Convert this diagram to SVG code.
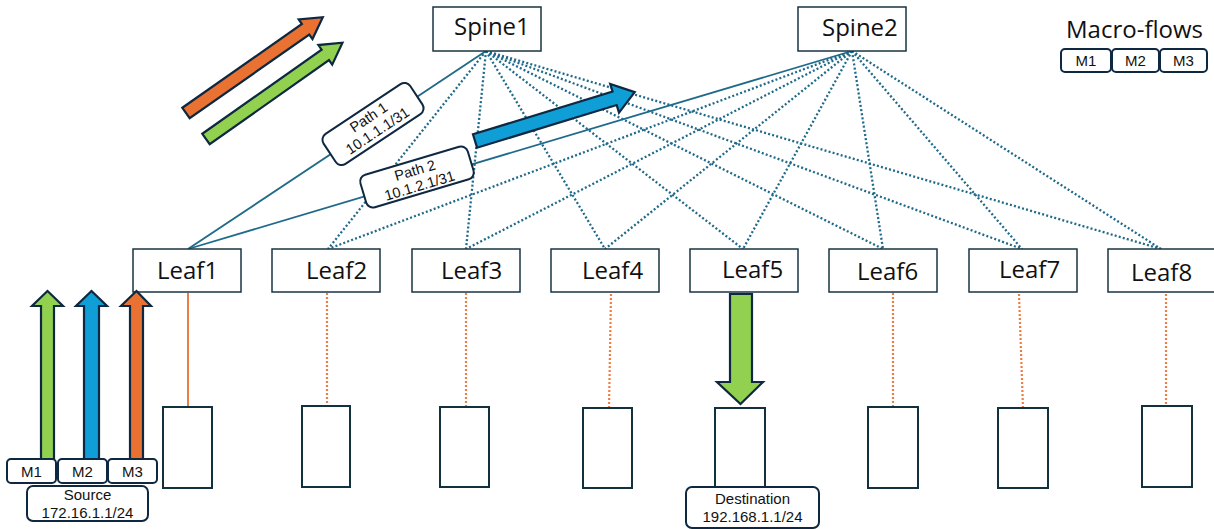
<svg xmlns="http://www.w3.org/2000/svg" width="1214" height="529" viewBox="0 0 1214 529">
<style>
.box{fill:#fff;stroke:#1a3443;stroke-width:1.5}
.srv{fill:#fff;stroke:#12313f;stroke-width:2}
.rbox{fill:#fff;stroke:#0e2841;stroke-width:2}
.big{font-family:"Open Sans","Noto Sans",sans-serif;font-size:24px;fill:#111}
.sm{font-family:"Liberation Sans",Arial,sans-serif;font-size:15px;fill:#111;text-anchor:middle}
.pl{font-family:"Liberation Sans",Arial,sans-serif;font-size:14.5px;fill:#111;text-anchor:middle}
.solid{stroke:#1f6a8a;stroke-width:1.8;fill:none}
.dot{stroke:#1f6a8a;stroke-width:2.3;stroke-dasharray:2 2.2;fill:none}
.odot{stroke:#ee7d43;stroke-width:2.2;stroke-dasharray:2 2;fill:none}
.osolid{stroke:#ee7d43;stroke-width:2;fill:none}
.arr{stroke:#0e2841;stroke-width:2.2;stroke-linejoin:miter}
.g{fill:#92d050}.b{fill:#0f9ed5}.o{fill:#e97132}
</style>
<g id="connectors">
<line class="solid" x1="486" y1="51" x2="188" y2="249"/>
<line class="solid" x1="852" y1="51" x2="188" y2="249"/>
<line class="dot" x1="486" y1="51" x2="328" y2="249"/>
<line class="dot" x1="486" y1="51" x2="466" y2="249"/>
<line class="dot" x1="486" y1="51" x2="605" y2="249"/>
<line class="dot" x1="486" y1="51" x2="743" y2="249"/>
<line class="dot" x1="486" y1="51" x2="883" y2="249"/>
<line class="dot" x1="486" y1="51" x2="1022" y2="249"/>
<line class="dot" x1="486" y1="51" x2="1161" y2="249"/>
<line class="dot" x1="852" y1="51" x2="328" y2="249"/>
<line class="dot" x1="852" y1="51" x2="466" y2="249"/>
<line class="dot" x1="852" y1="51" x2="605" y2="249"/>
<line class="dot" x1="852" y1="51" x2="743" y2="249"/>
<line class="dot" x1="852" y1="51" x2="883" y2="249"/>
<line class="dot" x1="852" y1="51" x2="1022" y2="249"/>
<line class="dot" x1="852" y1="51" x2="1161" y2="249"/>
<line class="osolid" x1="188" y1="293" x2="188" y2="407"/>
<line class="odot" x1="327" y1="293" x2="327" y2="406"/>
<line class="odot" x1="466" y1="293" x2="466" y2="407"/>
<line class="odot" x1="611" y1="294" x2="609" y2="408"/>
<line class="odot" x1="893" y1="293" x2="893" y2="407"/>
<line class="odot" x1="1019" y1="294" x2="1023" y2="408"/>
<line class="odot" x1="1166" y1="294" x2="1166" y2="406"/>
</g>
<g id="spine1"><rect class="box" x="433" y="7" width="108" height="44"/><text class="big" x="454" y="35">Spine1</text></g>
<g id="spine2"><rect class="box" x="798" y="7" width="108" height="44"/><text class="big" x="822" y="36">Spine2</text></g>
<g id="leaf1"><rect class="box" x="133" y="249" width="108" height="43"/><text class="big" x="157" y="279">Leaf1</text></g>
<g id="leaf2"><rect class="box" x="272" y="249" width="108" height="43"/><text class="big" x="306" y="279">Leaf2</text></g>
<g id="leaf3"><rect class="box" x="412" y="249" width="108" height="43"/><text class="big" x="441" y="279">Leaf3</text></g>
<g id="leaf4"><rect class="box" x="551" y="249" width="108" height="43"/><text class="big" x="582" y="279">Leaf4</text></g>
<g id="leaf5"><rect class="box" x="690" y="249" width="108" height="43"/><text class="big" x="722" y="278">Leaf5</text></g>
<g id="leaf6"><rect class="box" x="829" y="249" width="108" height="43"/><text class="big" x="857" y="280">Leaf6</text></g>
<g id="leaf7"><rect class="box" x="969" y="249" width="108" height="43"/><text class="big" x="999" y="278">Leaf7</text></g>
<g id="leaf8"><rect class="box" x="1108" y="249" width="108" height="43"/><text class="big" x="1131" y="281">Leaf8</text></g>
<g id="server1"><rect class="srv" x="163" y="407" width="49" height="81"/></g>
<g id="server2"><rect class="srv" x="302" y="406" width="48" height="81"/></g>
<g id="server3"><rect class="srv" x="440" y="407" width="49" height="80"/></g>
<g id="server4"><rect class="srv" x="583" y="408" width="49" height="80"/></g>
<g id="server5"><rect class="srv" x="715" y="408" width="50" height="80"/></g>
<g id="server6"><rect class="srv" x="868" y="407" width="50" height="81"/></g>
<g id="server7"><rect class="srv" x="998" y="408" width="50" height="80"/></g>
<g id="server8"><rect class="srv" x="1142" y="406" width="50" height="81"/></g>
<g id="path1-label" transform="translate(373,124) rotate(-33.6)">
<rect class="rbox" x="-52" y="-18" width="104" height="36" rx="7"/>
<text class="pl" x="0" y="-3">Path 1</text><text class="pl" x="0" y="13">10.1.1.1/31</text>
</g>
<g id="path2-label" transform="translate(417,177) rotate(-16.6)">
<rect class="rbox" x="-56" y="-17" width="112" height="34" rx="7"/>
<text class="pl" x="0" y="-2">Path 2</text><text class="pl" x="0" y="14">10.1.2.1/31</text>
</g>
<g id="flow-orange"><polygon class="arr o" transform="translate(186,113) rotate(-35)" points="0,-6.4 146,-6.4 146,-12 167,0 146,12 146,6.4 0,6.4"/></g>
<g id="flow-green"><polygon class="arr g" transform="translate(206,139) rotate(-35.2)" points="0,-6.4 146,-6.4 146,-12 167,0 146,12 146,6.4 0,6.4"/></g>
<g id="flow-blue"><polygon class="arr b" transform="translate(475,141) rotate(-17)" points="0,-7 146,-7 146,-15 167,0 146,15 146,7 0,7"/></g>
<g id="up-green"><polygon class="arr g" points="41,459 41,306 32,306 47.5,291 63,306 54,306 54,459"/></g>
<g id="up-blue"><polygon class="arr b" points="84,459 84,306 76,306 91.5,291 107,306 99,306 99,459"/></g>
<g id="up-orange"><polygon class="arr o" points="130,459 130,306 121,306 136.5,291 151,306 143,306 143,459"/></g>
<g id="down-green"><polygon class="arr g" points="730,294 752,294 752,382 763,382 740.5,404 717,382 730,382"/></g>
<g id="m1"><rect class="rbox" x="7" y="459" width="49" height="24" rx="4"/><text class="sm" x="31.5" y="477">M1</text></g>
<g id="m2"><rect class="rbox" x="58" y="459" width="49" height="24" rx="4"/><text class="sm" x="82.5" y="477">M2</text></g>
<g id="m3"><rect class="rbox" x="108" y="459" width="49" height="24" rx="4"/><text class="sm" x="132.5" y="477">M3</text></g>
<g id="source"><rect class="rbox" x="27" y="486" width="121" height="35" rx="6"/><text class="sm" x="87.5" y="500">Source</text><text class="sm" x="87.5" y="518">172.16.1.1/24</text></g>
<g id="destination"><rect class="rbox" x="686" y="487" width="133" height="41" rx="6"/><text class="sm" x="752.5" y="504">Destination</text><text class="sm" x="752.5" y="522">192.168.1.1/24</text></g>
<g id="macro-flows"><text class="big" x="1066" y="38">Macro-flows</text>
<rect class="rbox" x="1061" y="49" width="50" height="23" rx="4"/><text class="sm" x="1086" y="66">M1</text>
<rect class="rbox" x="1112" y="49" width="47" height="23" rx="4"/><text class="sm" x="1135.5" y="66">M2</text>
<rect class="rbox" x="1160" y="49" width="47" height="23" rx="4"/><text class="sm" x="1183.5" y="66">M3</text>
</g>
</svg>
